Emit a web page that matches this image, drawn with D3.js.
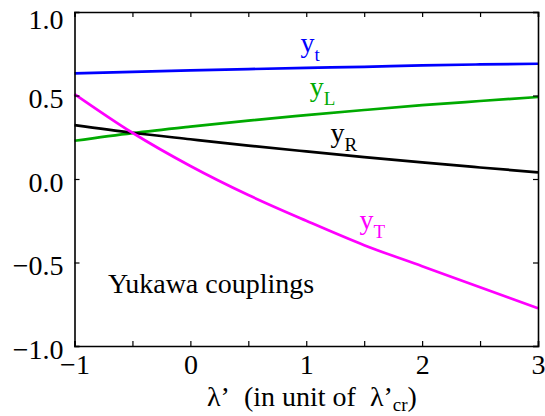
<!DOCTYPE html>
<html>
<head>
<meta charset="utf-8">
<script src="https://cdn.jsdelivr.net/npm/d3@7"></script>
<style>
  body { margin: 0; background: #fff; }
</style>
</head>
<body>
<div id="chart"></div>
<script>
// lambda' values (in unit of lambda'_cr)
const lambdaVals = [-1, -0.5, 0, 0.5, 1, 1.5, 2, 2.5, 3];

// Yukawa couplings
const yt = [0.633, 0.642, 0.650, 0.658, 0.665, 0.672, 0.680, 0.686, 0.690];
const yL = [0.229, 0.275, 0.314, 0.350, 0.382, 0.413, 0.442, 0.467, 0.491];
const yR = [0.323, 0.277, 0.238, 0.200, 0.165, 0.131, 0.099, 0.069, 0.040];
const yT = [0.509, 0.277, 0.078, -0.096, -0.250, -0.396, -0.522, -0.648, -0.774];

const seriesNames = ["t", "L", "R", "T"];
const seriesColors = ["#0000ff", "#00aa00", "#000000", "#ff00ff"];
// label anchor positions (in data units) for each curve
const labelX = [0.95, 1.03, 1.21, 1.46];
const labelY = [0.76, 0.50, 0.22, -0.30];

const xTicks = [-1, -0.5, 0, 0.5, 1, 1.5, 2, 2.5, 3];
const yTicks = [-1, -0.5, 0, 0.5, 1];

const W = 545, H = 416;
const margin = { top: 12, right: 7, bottom: 70, left: 74.5 };
const width = W - margin.left - margin.right;
const height = H - margin.top - margin.bottom;
const FONT = "'Times New Roman', Times, 'Liberation Serif', 'DejaVu Serif', serif";

const svg = d3.select("#chart").append("svg")
  .attr("width", W)
  .attr("height", H)
  .style("font-family", FONT);

const chart = svg.append("g")
  .attr("transform", `translate(${margin.left}, ${margin.top})`);

const xScale = d3.scaleLinear().domain([-1, 3]).range([0, width]);
const yScale = d3.scaleLinear().domain([-1, 1]).range([height, 0]);

// curves
const series = [yt, yL, yR, yT];
const line = d3.line()
  .x((d, i) => xScale(lambdaVals[i]))
  .y(d => yScale(d))
  .curve(d3.curveMonotoneX);

chart.selectAll("path.curve")
  .data(series)
  .join("path")
  .attr("class", "curve")
  .attr("fill", "none")
  .attr("stroke", (d, i) => seriesColors[i])
  .attr("stroke-width", 2.7)
  .attr("d", line);

// curve labels y_t, y_L ...
const labels = chart.selectAll("text.lab")
  .data(seriesNames)
  .join("text")
  .attr("class", "lab")
  .style("font-family", FONT)
  .attr("fill", (d, i) => seriesColors[i])
  .attr("x", (d, i) => xScale(labelX[i]))
  .attr("y", (d, i) => yScale(labelY[i]))
  .attr("font-size", 28);
labels.append("tspan").text("y");
labels.append("tspan")
  .attr("dy", 9)
  .attr("font-size", 19)
  .text(d => d);

// axes, ticks pointing inward
const fmtX = d => Number.isInteger(d) ? d3.format("d")(d) : "";
const fmtY = d3.format(".1f");

const xAxis = d3.axisBottom(xScale).tickValues(xTicks).tickSize(-5).tickPadding(8).tickFormat(fmtX);
const xAxisTop = d3.axisTop(xScale).tickValues(xTicks).tickSize(-5).tickFormat("");
const yAxis = d3.axisLeft(yScale).tickValues(yTicks).tickSize(-5).tickPadding(11).tickFormat(fmtY);
const yAxisRight = d3.axisRight(yScale).tickValues(yTicks).tickSize(-5).tickFormat("");

const gx = chart.append("g").attr("class", "axis x-axis")
  .attr("transform", `translate(0, ${height})`).call(xAxis);
chart.append("g").attr("class", "axis").call(xAxisTop);
const gy = chart.append("g").attr("class", "axis y-axis").call(yAxis);
chart.append("g").attr("class", "axis")
  .attr("transform", `translate(${width}, 0)`).call(yAxisRight);

chart.selectAll(".axis")
  .attr("font-family", null)
  .attr("font-size", 28);
chart.selectAll(".axis path.domain").attr("stroke", "#000").attr("stroke-width", 1.6);
chart.selectAll(".axis .tick line").attr("stroke", "#000").attr("stroke-width", 1.2);
chart.selectAll(".axis text").attr("fill", "#000").style("font-family", FONT);

gx.selectAll(".tick text").attr("dy", "0.71em");
gy.selectAll(".tick text")
  .attr("dy", "0.36em")
  .attr("y", d => d === 1 ? 6 : 2);

// annotation
chart.append("text")
  .style("font-family", FONT)
  .attr("font-size", 28)
  .attr("x", xScale(-0.71))
  .attr("y", yScale(-0.685))
  .text("Yukawa couplings");

// x axis title (keep the wider gaps of the original)
const xt = svg.append("text")
  .style("font-family", FONT)
  .style("white-space", "pre")
  .attr("font-size", 28)
  .attr("x", 207)
  .attr("y", 406);
xt.append("tspan").text("λ’\u00a0\u00a0(in unit of\u00a0\u00a0λ’");
xt.append("tspan").attr("dy", 5).attr("font-size", 19).text("cr");
xt.append("tspan").attr("dy", -5).text(")");
</script>
</body>
</html>
